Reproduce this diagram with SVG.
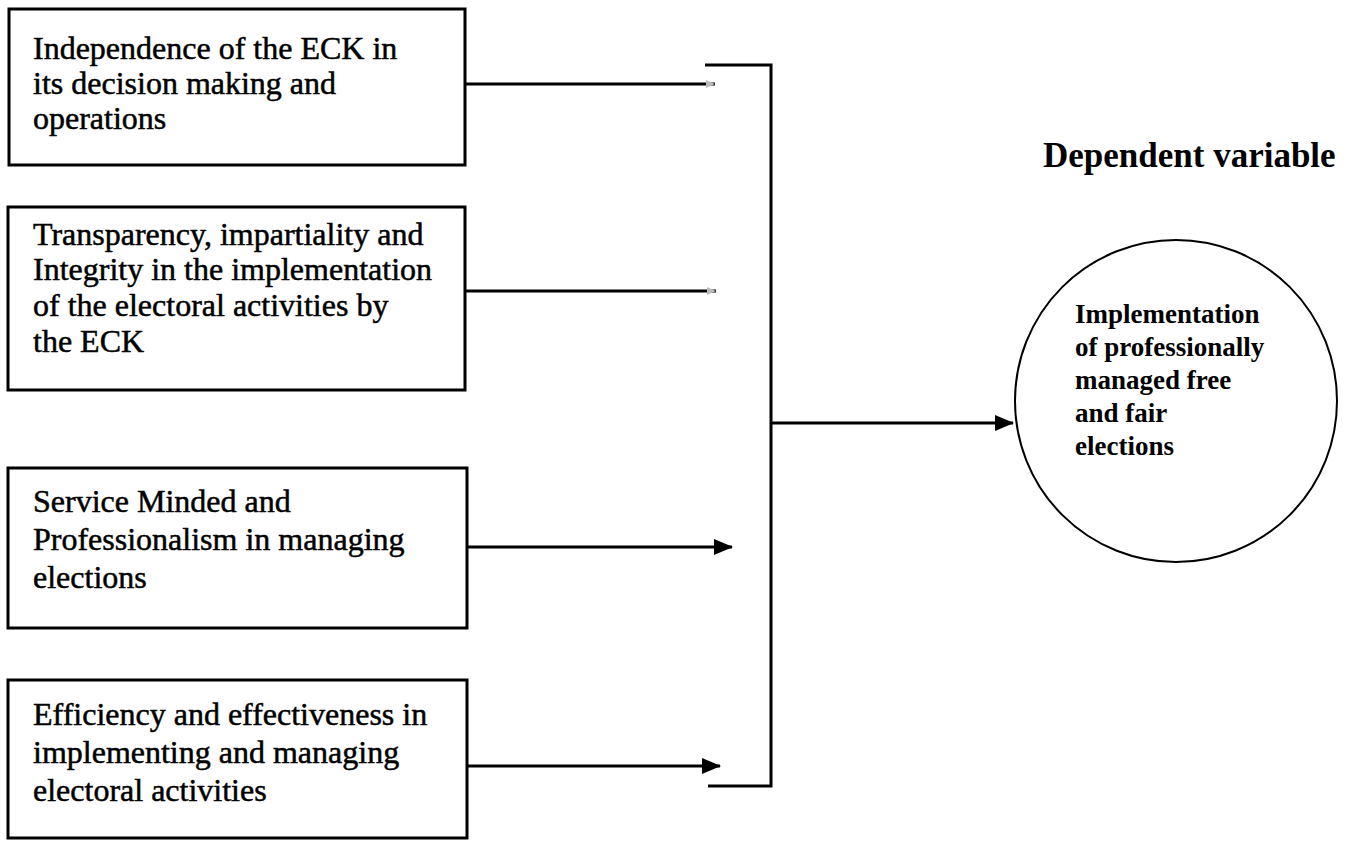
<svg xmlns="http://www.w3.org/2000/svg" width="1354" height="845" viewBox="0 0 1354 845">
<style>
.box{fill:#fff;stroke:#000;stroke-width:3}
.t{font-family:"Liberation Serif","Times New Roman",serif;font-size:32px;fill:#000;stroke:#000;stroke-width:0.5}
.tc{font-family:"Liberation Serif","Times New Roman",serif;font-size:27px;font-weight:bold;fill:#000}
.th{font-family:"Liberation Serif","Times New Roman",serif;font-size:35px;font-weight:bold;fill:#000}
.ln{fill:none;stroke:#000;stroke-width:3}
</style>
<defs>
<marker id="ah" markerWidth="19" markerHeight="16" refX="18" refY="8" orient="auto" markerUnits="userSpaceOnUse">
<path d="M0,0 L19,8 L0,16 Z" fill="#000"/>
</marker>
<marker id="af" markerWidth="10" markerHeight="10" refX="9" refY="5" orient="auto" markerUnits="userSpaceOnUse">
<path d="M0,1 L9,5 L0,9 Z" fill="#bbb"/>
</marker>
</defs>
<g id="connectors">
<line class="ln" x1="465" y1="84" x2="715" y2="84" marker-end="url(#af)"/>
<line class="ln" x1="465" y1="291" x2="716" y2="291" marker-end="url(#af)"/>
<line class="ln" x1="467" y1="547" x2="732" y2="547" marker-end="url(#ah)"/>
<line class="ln" x1="467" y1="766" x2="720" y2="766" marker-end="url(#ah)"/>
<polyline class="ln" points="705,65 771,65 771,786 708,786"/>
<line class="ln" x1="771" y1="423" x2="1013" y2="423" stroke-width="2.5" marker-end="url(#ah)"/>
</g>
<g id="node1">
<rect class="box" x="9" y="9" width="456" height="156"/>
<text class="t" x="33" y="59">Independence of the ECK in</text>
<text class="t" x="33" y="94">its decision making and</text>
<text class="t" x="33" y="129">operations</text>
</g>
<g id="node2">
<rect class="box" x="8" y="207" width="457" height="183"/>
<text class="t" x="33" y="245">Transparency, impartiality and</text>
<text class="t" x="33" y="280">Integrity in the implementation</text>
<text class="t" x="33" y="316">of the electoral activities by</text>
<text class="t" x="33" y="352">the ECK</text>
</g>
<g id="node3">
<rect class="box" x="8" y="468" width="459" height="160"/>
<text class="t" x="33" y="512">Service Minded and</text>
<text class="t" x="33" y="550">Professionalism in managing</text>
<text class="t" x="33" y="588">elections</text>
</g>
<g id="node4">
<rect class="box" x="8" y="680" width="459" height="158"/>
<text class="t" x="33" y="725">Efficiency and effectiveness in</text>
<text class="t" x="33" y="763">implementing and managing</text>
<text class="t" x="33" y="801">electoral activities</text>
</g>
<g id="label-dependent">
<text class="th" x="1043" y="167">Dependent variable</text>
</g>
<g id="outcome">
<circle cx="1176" cy="401" r="161" fill="none" stroke="#000" stroke-width="2"/>
<text class="tc" x="1075" y="323">Implementation</text>
<text class="tc" x="1075" y="356">of professionally</text>
<text class="tc" x="1075" y="389">managed free</text>
<text class="tc" x="1075" y="422">and fair</text>
<text class="tc" x="1075" y="455">elections</text>
</g>
</svg>
